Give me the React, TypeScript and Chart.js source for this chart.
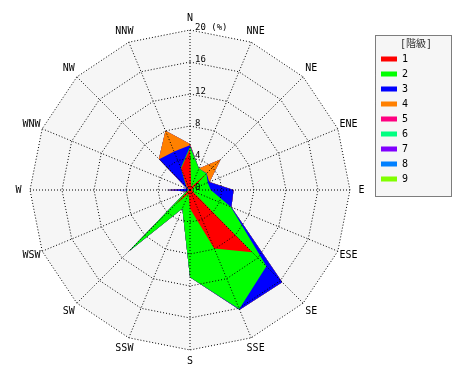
import { useEffect, useRef } from 'react';
import { Chart, registerables } from 'chart.js';

Chart.register(...registerables);

// ---- data ----
const directions = ['N', 'NNE', 'NE', 'ENE', 'E', 'ESE', 'SE', 'SSE', 'S', 'SSW', 'SW', 'WSW', 'W', 'WNW', 'NW', 'NNW'];
const classNames = ['1', '2', '3', '4', '5', '6', '7', '8', '9'];
const classColors = ['#ff0000', '#00ff00', '#0000ff', '#ff8000', '#ff0080', '#00ff80', '#8000ff', '#0080ff', '#80ff00'];

// frequency (%) of each class per direction
const class1 = [5.2, 0.4, 2.8, 0.3, 0.3, 0.3, 11.0, 7.9, 2.3, 0.5, 2.5, 0.2, 0.1, 0.2, 0.6, 2.9];
const class2 = [0.2, 2.5, 0.1, 2.1, 2.3, 5.2, 2.5, 8.2, 8.6, 2.0, 8.4, 0.3, 0.1, 0.1, 0.1, 0.1];
const class3 = [0.2, 0.0, 0.05, 0.2, 2.85, 0.1, 2.8, 0.1, 0.0, 0.0, 0.0, 0.0, 2.7, 0.1, 4.75, 2.2];
const class4 = [0.15, 0.0, 2.45, 0.05, 0.0, 0.0, 0.0, 0.0, 0.0, 0.0, 0.0, 0.0, 0.0, 0.0, 0.05, 2.8];
const class5 = [0, 0, 0, 0, 0, 0, 0, 0, 0, 0, 0, 0, 0, 0, 0, 0];
const class6 = [0, 0, 0, 0, 0, 0, 0, 0, 0, 0, 0, 0, 0, 0, 0, 0];
const class7 = [0, 0, 0, 0, 0, 0, 0, 0, 0, 0, 0, 0, 0, 0, 0, 0];
const class8 = [0, 0, 0, 0, 0, 0, 0, 0, 0, 0, 0, 0, 0, 0, 0, 0];
const class9 = [0, 0, 0, 0, 0, 0, 0, 0, 0, 0, 0, 0, 0, 0, 0, 0];

const tickValues = [0, 4, 8, 12, 16, 20];
const tickLabels = ['0', '4', '8', '12', '16', '20 (%)'];
const legendTitle = '[階級]';

const classValues = [class1, class2, class3, class4, class5, class6, class7, class8, class9];

const FONT = '"DejaVu Sans Mono", "Noto Sans CJK JP", monospace';

const decorPlugin = {
  id: 'roseDecor',
  afterLayout(chart: any) {
    const lg = chart.legend;
    if (lg) {
      lg.width = 80;
      lg.right = lg.left + 80;
    }
  },
  beforeDraw(chart: any) {
    const ctx = chart.ctx;
    const lg = chart.legend;
    if (!lg || !lg.legendHitBoxes || !lg.legendHitBoxes.length) return;
    const boxes = lg.legendHitBoxes;
    const last = boxes[boxes.length - 1];
    const x0 = Math.round(lg.left) - 0.5;
    const y0 = Math.round(lg.top) + 5.5;
    const w = 76;
    const h = Math.round(last.top + last.height + 12) - Math.round(lg.top) - 5;
    ctx.save();
    ctx.fillStyle = '#f6f6f6';
    ctx.fillRect(x0, y0, w, h);
    ctx.strokeStyle = '#000';
    ctx.lineWidth = 1;
    ctx.setLineDash([1, 1]);
    ctx.strokeRect(x0, y0, w, h);
    ctx.restore();
  },
  beforeDatasetsDraw(chart: any) {
    const s = chart.scales.r;
    const ctx = chart.ctx;
    ctx.save();
    ctx.beginPath();
    directions.forEach((_, i) => {
      const p = s.getPointPosition(i, s.drawingArea);
      if (i === 0) ctx.moveTo(p.x, p.y);
      else ctx.lineTo(p.x, p.y);
    });
    ctx.closePath();
    ctx.fillStyle = '#f6f6f6';
    ctx.fill();
    ctx.restore();
  },
  afterDraw(chart: any) {
    const s = chart.scales.r;
    const ctx = chart.ctx;
    ctx.save();
    ctx.fillStyle = '#000';
    ctx.font = '10px ' + FONT;
    ctx.textAlign = 'center';
    ctx.textBaseline = 'middle';
    directions.forEach((d, i) => {
      const p = s.getPointPosition(i, s.drawingArea + 11.5);
      ctx.fillText(d, p.x, p.y);
    });
    ctx.font = '9px ' + FONT;
    ctx.textAlign = 'left';
    ctx.textBaseline = 'alphabetic';
    tickValues.forEach((v, k) => {
      const y = s.yCenter - s.getDistanceFromCenterForValue(v);
      ctx.fillText(tickLabels[k], s.xCenter + 5, y - 0.5);
    });
    ctx.restore();
  },
};

export default function App() {
  const ref = useRef<HTMLCanvasElement>(null);

  useEffect(() => {
    const cumulative = classValues.map((_, k) =>
      directions.map((__, i) => classValues.slice(0, k + 1).reduce((sum, arr) => sum + arr[i], 0))
    );
    const chart = new Chart(ref.current as HTMLCanvasElement, {
      type: 'radar',
      data: {
        labels: directions,
        datasets: cumulative.map((data, k) => ({
          label: classNames[k],
          data,
          backgroundColor: classColors[k],
          borderColor: 'rgba(0,0,0,0)',
          borderWidth: 0,
          pointRadius: 0,
          pointHoverRadius: 0,
          fill: 'origin',
        })),
      },
      options: {
        responsive: false,
        animation: false,
        events: [],
        layout: { padding: { left: 5, top: 30, bottom: 30, right: 52 } },
        elements: { line: { tension: 0 } },
        plugins: {
          legend: {
            position: 'right',
            align: 'start',
            title: {
              display: true,
              text: legendTitle,
              color: '#333',
              font: { family: FONT, size: 10, lineHeight: 1 },
              padding: { top: 9, bottom: 0 },
            },
            labels: {
              boxWidth: 16,
              boxHeight: 5,
              padding: 5,
              color: '#000',
              font: { family: FONT, size: 10 },
            },
          },
          tooltip: { enabled: false },
        },
        scales: {
          r: {
            min: 0,
            max: 20,
            startAngle: 0,
            ticks: { display: false, stepSize: 4 },
            grid: { color: '#000', lineWidth: 1, z: 1 },
            border: { dash: [1, 2] },
            angleLines: { color: '#000', lineWidth: 1, borderDash: [1, 2] },
            pointLabels: { display: false },
          },
        },
      } as any,
      plugins: [decorPlugin],
    });
    return () => chart.destroy();
  }, []);

  return (
    <div style={{ position: 'absolute', left: 0, top: 0, width: 470, height: 380, background: '#fff' }}>
      <canvas ref={ref} width={470} height={380} style={{ display: 'block', width: 470, height: 380 }} />
    </div>
  );
}
